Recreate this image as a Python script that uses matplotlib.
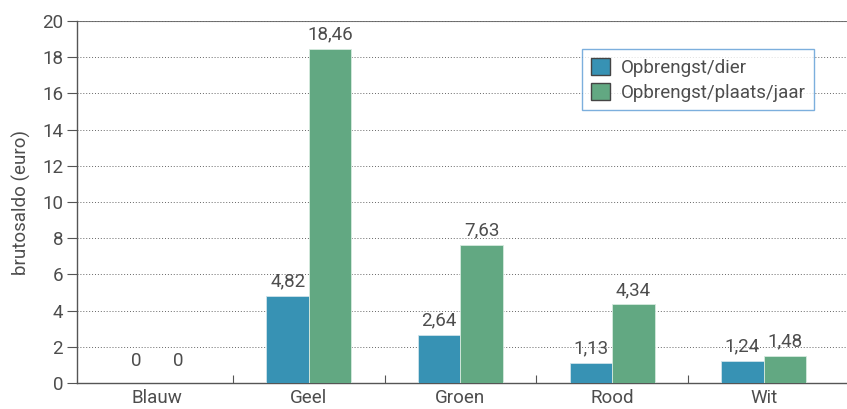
import matplotlib
matplotlib.use("Agg")
import matplotlib.pyplot as plt
import numpy as np

categories = ["Blauw", "Geel", "Groen", "Rood", "Wit"]
opbrengst_dier = [0, 4.82, 2.64, 1.13, 1.24]
opbrengst_plaats = [0, 18.46, 7.63, 4.34, 1.48]
series_names = ["Opbrengst/dier", "Opbrengst/plaats/jaar"]
yticks = [0, 2, 4, 6, 8, 10, 12, 14, 16, 18, 20]

plt.rcParams['font.family'] = ['Roboto', 'DejaVu Sans']
txt = '#4d4d4d'
fs = 13.5

fig = plt.figure(figsize=(8.47, 4.09), dpi=100)
ax = fig.add_axes([77/847, 1 - 383/409, 770/847, 362/409])

x = np.arange(len(categories))
w = 0.28
c1, c2 = '#3792b4', '#62a882'
ax.bar(x - w/2, opbrengst_dier, w, color=c1, edgecolor='#cfe3ea', linewidth=0.6, label=series_names[0], zorder=3)
ax.bar(x + w/2, opbrengst_plaats, w, color=c2, edgecolor='#d6eadf', linewidth=0.6, label=series_names[1], zorder=3)

def fmt(v):
    return f"{v:.2f}".replace('.', ',') if v != 0 else "0"

for xs, vals in ((x - w/2, opbrengst_dier), (x + w/2, opbrengst_plaats)):
    for xi, v in zip(xs, vals):
        off = 9 if v == 0 else 4
        ax.annotate(fmt(v), (xi, v), xytext=(0, off), textcoords='offset points',
                    ha='center', va='bottom', fontsize=fs, color=txt)

ax.set_xlim(-0.53, 4.55)
ax.set_ylim(0, 20)
ax.set_yticks(yticks)
ax.set_xticks(x)
ax.set_xticklabels(categories)
ax.set_xticks(x[:-1] + 0.5, minor=True)
ax.tick_params(axis='x', which='major', length=0, pad=4, labelsize=fs, labelcolor=txt)
ax.tick_params(axis='x', which='minor', length=6, width=0.8, color='#555555', direction='in')
ax.tick_params(axis='y', length=7, width=0.8, color='#555555', labelsize=fs, labelcolor=txt, pad=3)

ax.yaxis.grid(True, linestyle=(0, (1, 2)), color='#666666', linewidth=0.7, zorder=0)
ax.axhline(20, color='#777777', linewidth=0.8, zorder=1)
for s in ['top', 'right']:
    ax.spines[s].set_visible(False)
for s in ['left', 'bottom']:
    ax.spines[s].set_color('#555555')
    ax.spines[s].set_linewidth(1.0)

ax.set_ylabel("brutosaldo (euro)", fontsize=fs, color=txt, labelpad=8)

leg = ax.legend(loc='upper left', bbox_to_anchor=((573-77)/770, (383-40)/362),
                fontsize=fs, frameon=True, fancybox=False, borderpad=0.45,
                handlelength=1.0, handleheight=1.0, handletextpad=0.6, labelspacing=0.35,
                labelcolor=txt)
leg.get_frame().set_edgecolor('#5b9bd5')
leg.get_frame().set_linewidth(1.0)
for h in leg.legend_handles:
    h.set_edgecolor('#444444')
    h.set_linewidth(1.0)

fig.savefig("out.png", dpi=100)
